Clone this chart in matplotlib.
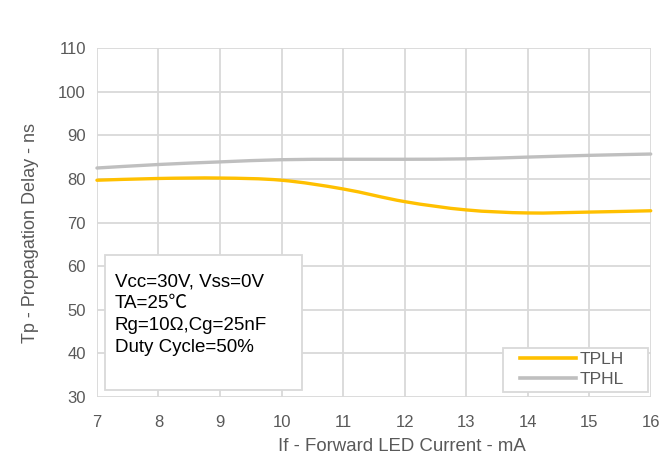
import numpy as np
import matplotlib
matplotlib.use("Agg")
import matplotlib.pyplot as plt
from matplotlib.path import Path
from matplotlib.patches import PathPatch, Rectangle
from matplotlib.lines import Line2D

plt.rcParams['font.family'] = ['Liberation Sans', 'DejaVu Sans']

# ===== Data =====
current_ma = [7, 8, 9, 10, 11, 12, 13, 14, 15, 16]
tplh_ns = [79.7, 80.1, 80.2, 79.7, 77.7, 74.8, 72.9, 72.2, 72.4, 72.7]
tphl_ns = [82.5, 83.3, 83.9, 84.4, 84.5, 84.5, 84.6, 85.0, 85.4, 85.7]
x_ticks = list(range(7, 17))
y_ticks = list(range(30, 111, 10))
conditions = ["Vcc=30V, Vss=0V", "TA=25\u2103", "Rg=10\u03a9,Cg=25nF", "Duty Cycle=50%"]

TEXT_GRAY = "#595959"
GRID_GRAY = "#d9d9d9"


def smooth_path(xs, ys):
    # Excel-like smoothed line: Catmull-Rom converted to cubic Bezier segments
    pts = np.column_stack([xs, ys]).astype(float)
    verts = [pts[0]]
    codes = [Path.MOVETO]
    n = len(pts)
    for i in range(n - 1):
        p0 = pts[i - 1] if i > 0 else pts[i]
        p1 = pts[i]
        p2 = pts[i + 1]
        p3 = pts[i + 2] if i + 2 < n else pts[i + 1]
        c1 = p1 + (p2 - p0) / 6.0
        c2 = p2 - (p3 - p1) / 6.0
        verts += [c1, c2, p2]
        codes += [Path.CURVE4] * 3
    return Path(verts, codes)


fig = plt.figure(figsize=(6.64, 4.57), dpi=100)
ax = fig.add_axes([0.146, 0.131, 0.834, 0.764])

ax.set_xlim(7, 16)
ax.set_ylim(30, 110)
ax.set_xticks(x_ticks)
ax.set_yticks(y_ticks)
ax.grid(True, color=GRID_GRAY, linewidth=1.3)
ax.set_axisbelow(True)
for sp in ax.spines.values():
    sp.set_visible(False)
ax.tick_params(length=0, labelsize=12, labelcolor=TEXT_GRAY)
ax.tick_params(axis="y", pad=8)
ax.tick_params(axis="x", pad=13)

series = [("TPLH", tplh_ns, "#ffc000"), ("TPHL", tphl_ns, "#bfbfbf")]
handles = []
for name, ys, color in series:
    patch = PathPatch(smooth_path(current_ma, ys), facecolor="none",
                      edgecolor=color, linewidth=2.4, capstyle="round",
                      clip_on=False, zorder=3)
    ax.add_patch(patch)
    handles.append(Line2D([], [], color=color, linewidth=2.6, label=name))

# legend frame drawn separately (wider side padding than legend allows)
ax.add_patch(Rectangle((0.733, 0.0143), 0.262, 0.126, transform=ax.transAxes,
                       facecolor="white", edgecolor=GRID_GRAY, linewidth=1.3,
                       zorder=4))
leg = ax.legend(handles=handles, loc="center", bbox_to_anchor=(0.858, 0.079),
                frameon=False, fontsize=12.5, handlelength=3.2,
                handletextpad=0.25, borderpad=0.1, labelspacing=0.3,
                borderaxespad=0)
leg.set_zorder(5)
for t in leg.get_texts():
    t.set_color(TEXT_GRAY)

# conditions box
ax.add_patch(Rectangle((0.0144, 0.02), 0.356, 0.386, transform=ax.transAxes,
                       facecolor="white", edgecolor=GRID_GRAY, linewidth=1.3,
                       zorder=4))
for i, line in enumerate(conditions):
    ax.text(0.032, 0.33 - i * 0.063, line, transform=ax.transAxes,
            fontsize=13.5, color="black", va="center", ha="left", zorder=5,
            family=['Liberation Sans', 'Noto Sans CJK SC', 'DejaVu Sans'])

fig.text(0.046, 0.49, "Tp - Propagation Delay - ns", rotation=90,
         ha="center", va="center", fontsize=13, color=TEXT_GRAY)
fig.text(0.605, 0.024, "If - Forward LED Current - mA",
         ha="center", va="center", fontsize=13.4, color=TEXT_GRAY)

fig.savefig("out.png", dpi=100)
